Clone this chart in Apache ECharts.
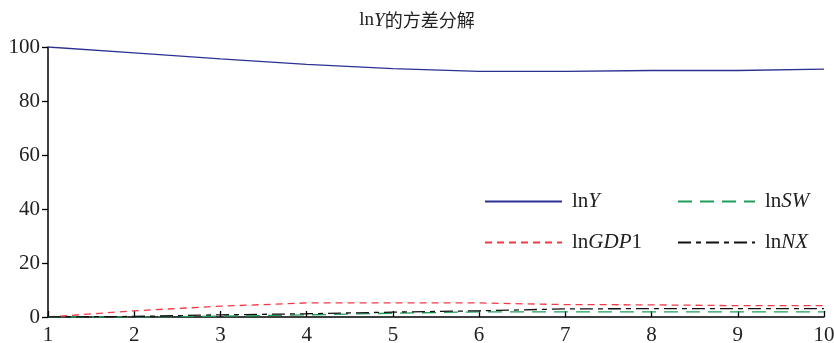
<!DOCTYPE html>
<html><head><meta charset="utf-8">
<script src="https://cdn.jsdelivr.net/npm/echarts@6/dist/echarts.min.js"></script>
<style>html,body{margin:0;padding:0;background:#fff}#c{width:834px;height:343px}</style>
</head><body><div id="c"></div>
<script>
const periods = [1,2,3,4,5,6,7,8,9,10];
const lnY   = [100, 97.8, 95.6, 93.6, 92.0, 91.0, 91.0, 91.3, 91.3, 91.8];
const lnGDP1= [0, 2.3, 4.0, 5.2, 5.2, 5.2, 4.6, 4.5, 4.2, 4.2];
const lnSW  = [0, 0.0, 0.3, 0.8, 1.4, 1.9, 1.9, 1.9, 1.9, 1.9];
const lnNX  = [0, 0.2, 0.8, 1.2, 1.8, 2.3, 3.0, 3.1, 3.1, 3.1];
const yTicks = [0,20,40,60,80,100];

const serif = '"Liberation Serif","DejaVu Serif",serif';
const rich = {
  f:{fontFamily:serif,fontSize:21,color:'#222',padding:[0,0,0,5]},
  n:{fontFamily:serif,fontSize:21,color:'#222'},
  i:{fontFamily:serif,fontSize:21,fontStyle:'italic',color:'#222'}
};
function mk(name,data,color,dash){
  return {name, type:'line', data:periods.map((p,k)=>[p,data[k]]), symbol:'none',
    lineStyle:{color,width:1.3,type:dash}, itemStyle:{color}};
}
function lg(name,left,top){
  return {data:[name], left, top, itemWidth:77, itemHeight:12, itemGap:10,
    itemStyle:{opacity:0},
    textStyle:{rich}, formatter:n=>{
      const m={'lnY':'{f|ln}{i|Y}','lnSW':'{f|ln}{i|SW}','lnGDP1':'{f|ln}{i|GDP}{n|1}','lnNX':'{f|ln}{i|NX}'};
      return m[n];}};
}
const chart = echarts.init(document.getElementById('c'));
chart.setOption({
  animation:false,
  title:{text:'{n|ln}{i|Y}{c|的方差分解}', left:'center', top:6,
    textStyle:{fontWeight:'normal',rich:{n:{fontFamily:serif,fontSize:19,color:'#222',fontWeight:'normal'},i:{fontFamily:serif,fontSize:19,fontStyle:'italic',color:'#222',fontWeight:'normal'},c:{fontFamily:'"Noto Sans CJK SC"',fontSize:18,color:'#222',fontWeight:'normal'}}}},
  legend:[lg('lnY',479,186),lg('lnSW',672,186),lg('lnGDP1',479,227),lg('lnNX',672,227)],
  grid:{left:48,right:10,top:47,bottom:26,containLabel:false,outerBoundsMode:'none'},
  xAxis:{type:'value',min:1,max:10,interval:1,
    axisLine:{lineStyle:{color:'#000',width:1.5}},
    axisTick:{inside:true,length:6,lineStyle:{color:'#000',width:1.3}},
    axisLabel:{fontFamily:serif,fontSize:21,color:'#222',margin:8},
    splitLine:{show:false}},
  yAxis:{type:'value',min:0,max:100,interval:20,
    axisLine:{show:true,lineStyle:{color:'#000',width:1.5}},
    axisTick:{show:true,length:6,lineStyle:{color:'#000',width:1.3}},
    axisLabel:{fontFamily:serif,fontSize:21,color:'#222',margin:8,formatter:v=>yTicks.includes(v)?String(v):''},
    splitLine:{show:false}},
  series:[
    mk('lnY',lnY,'#2a3192','solid'),
    mk('lnGDP1',lnGDP1,'#f03a46',[7,5]),
    mk('lnSW',lnSW,'#1f9e5a',[14,8]),
    mk('lnNX',lnNX,'#111',[13,5,5,5])
  ]
});
</script></body></html>
